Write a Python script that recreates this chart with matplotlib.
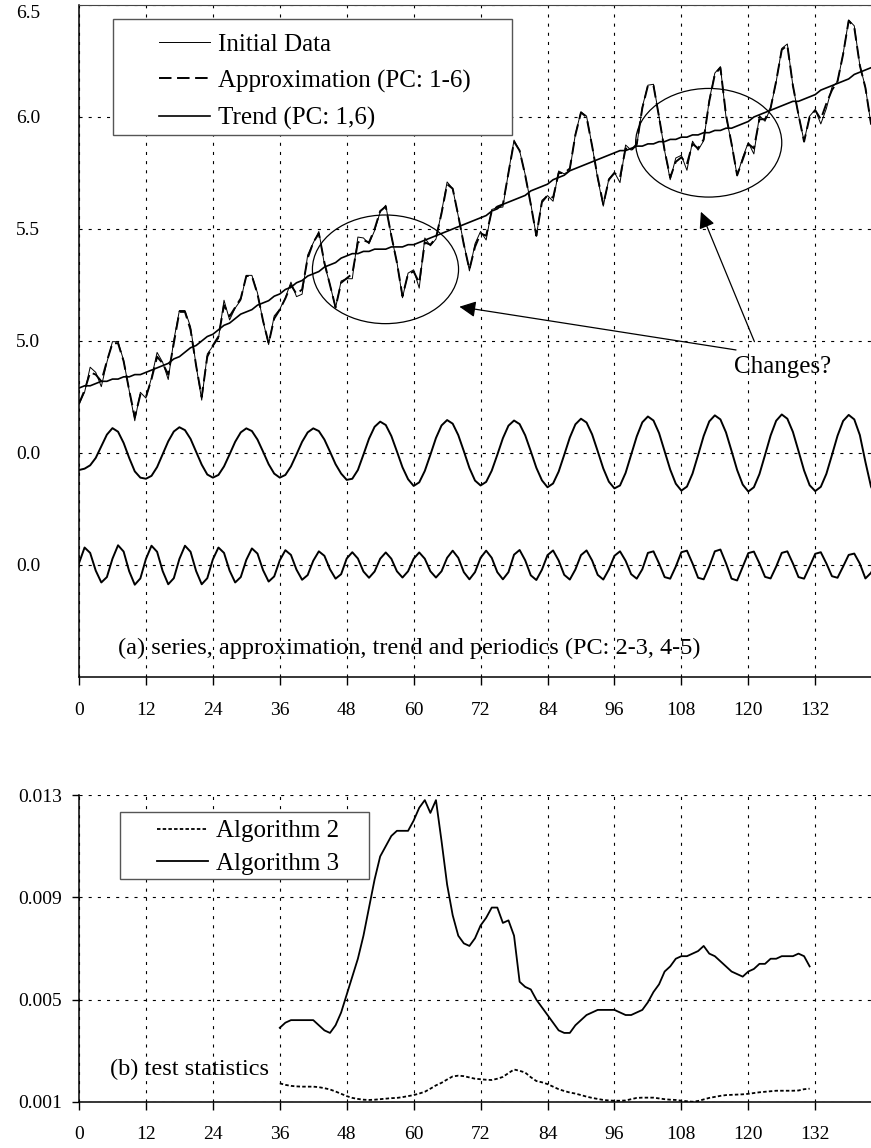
"""SSA decomposition of the log airline series and change-point statistics."""

import matplotlib.pyplot as plt
import numpy as np
from matplotlib.patches import Ellipse, Rectangle

plt.rcParams["font.family"] = ["Liberation Serif", "DejaVu Serif"]
plt.rcParams["lines.scale_dashes"] = False

# log of monthly passengers, 1949-1960 (index 0..143)
initial_data = [
    4.718, 4.771, 4.883, 4.860, 4.796, 4.905, 4.997, 4.997, 4.913, 4.779, 4.644, 4.771,
    4.745, 4.836, 4.949, 4.905, 4.828, 5.004, 5.136, 5.136, 5.063, 4.890, 4.736, 4.942,
    4.977, 5.011, 5.182, 5.094, 5.147, 5.182, 5.293, 5.293, 5.215, 5.088, 4.984, 5.112,
    5.142, 5.193, 5.263, 5.198, 5.209, 5.384, 5.438, 5.489, 5.342, 5.252, 5.147, 5.268,
    5.278, 5.278, 5.464, 5.460, 5.434, 5.493, 5.576, 5.606, 5.468, 5.352, 5.193, 5.303,
    5.318, 5.236, 5.460, 5.425, 5.455, 5.576, 5.710, 5.680, 5.557, 5.434, 5.313, 5.434,
    5.489, 5.451, 5.587, 5.595, 5.598, 5.753, 5.897, 5.849, 5.743, 5.613, 5.468, 5.628,
    5.649, 5.624, 5.759, 5.746, 5.762, 5.924, 6.023, 6.004, 5.872, 5.724, 5.602, 5.724,
    5.753, 5.707, 5.875, 5.852, 5.872, 6.045, 6.142, 6.146, 6.001, 5.849, 5.720, 5.817,
    5.829, 5.762, 5.892, 5.852, 5.894, 6.075, 6.196, 6.225, 6.001, 5.883, 5.737, 5.820,
    5.886, 5.835, 6.006, 5.981, 6.040, 6.157, 6.306, 6.326, 6.138, 6.009, 5.892, 6.004,
    6.033, 5.969, 6.038, 6.133, 6.157, 6.282, 6.433, 6.407, 6.230, 6.133, 5.966, 6.068,
]

approximation = [
    4.72, 4.78, 4.86, 4.85, 4.82, 4.91, 4.99, 4.99, 4.91, 4.78, 4.66, 4.76,
    4.75, 4.83, 4.93, 4.90, 4.85, 4.99, 5.13, 5.13, 5.05, 4.89, 4.75, 4.93,
    4.98, 5.02, 5.16, 5.11, 5.15, 5.19, 5.29, 5.29, 5.21, 5.09, 4.99, 5.10,
    5.14, 5.19, 5.25, 5.21, 5.23, 5.37, 5.44, 5.48, 5.35, 5.25, 5.15, 5.26,
    5.28, 5.30, 5.44, 5.45, 5.44, 5.50, 5.58, 5.60, 5.47, 5.35, 5.20, 5.30,
    5.31, 5.26, 5.44, 5.43, 5.46, 5.57, 5.70, 5.68, 5.56, 5.43, 5.32, 5.42,
    5.48, 5.47, 5.58, 5.60, 5.61, 5.75, 5.89, 5.85, 5.74, 5.61, 5.47, 5.62,
    5.65, 5.64, 5.75, 5.75, 5.77, 5.92, 6.02, 6.00, 5.87, 5.73, 5.61, 5.72,
    5.75, 5.73, 5.86, 5.85, 5.88, 6.04, 6.14, 6.14, 6.00, 5.85, 5.73, 5.80,
    5.82, 5.79, 5.88, 5.86, 5.90, 6.07, 6.19, 6.22, 6.01, 5.88, 5.74, 5.81,
    5.88, 5.86, 5.99, 5.99, 6.04, 6.16, 6.30, 6.32, 6.14, 6.01, 5.89, 6.00,
    6.03, 5.99, 6.06, 6.12, 6.16, 6.28, 6.43, 6.40, 6.23, 6.13, 5.97, 6.07,
]

trend = [
    4.79, 4.80, 4.80, 4.81, 4.82, 4.82, 4.83, 4.83, 4.84, 4.84, 4.85, 4.85,
    4.86, 4.87, 4.88, 4.89, 4.90, 4.92, 4.93, 4.95, 4.97, 4.98, 5.00, 5.02,
    5.03, 5.05, 5.07, 5.08, 5.10, 5.12, 5.13, 5.14, 5.16, 5.17, 5.18, 5.20,
    5.21, 5.23, 5.24, 5.26, 5.27, 5.29, 5.30, 5.31, 5.33, 5.34, 5.35, 5.37,
    5.38, 5.39, 5.39, 5.40, 5.40, 5.41, 5.41, 5.41, 5.42, 5.42, 5.42, 5.43,
    5.43, 5.44, 5.45, 5.46, 5.47, 5.48, 5.49, 5.50, 5.51, 5.52, 5.53, 5.54,
    5.55, 5.56, 5.58, 5.59, 5.61, 5.62, 5.63, 5.64, 5.65, 5.67, 5.68, 5.69,
    5.70, 5.72, 5.73, 5.74, 5.76, 5.77, 5.78, 5.79, 5.80, 5.81, 5.82, 5.83,
    5.84, 5.85, 5.85, 5.86, 5.87, 5.87, 5.88, 5.88, 5.89, 5.89, 5.90, 5.90,
    5.91, 5.91, 5.92, 5.92, 5.93, 5.93, 5.94, 5.94, 5.95, 5.95, 5.96, 5.97,
    5.98, 6.00, 6.01, 6.02, 6.03, 6.04, 6.05, 6.06, 6.07, 6.07, 6.08, 6.09,
    6.10, 6.12, 6.13, 6.14, 6.15, 6.16, 6.17, 6.19, 6.20, 6.21, 6.22, 6.23,
]

# annual periodic (PC 2-3), centred values
periodic_annual = [
    -0.076, -0.070, -0.055, -0.022, 0.030, 0.082, 0.111, 0.095, 0.045, -0.022, -0.082, -0.110,
    -0.115, -0.102, -0.063, -0.006, 0.052, 0.096, 0.115, 0.102, 0.063, 0.006, -0.052, -0.096,
    -0.110, -0.098, -0.060, -0.006, 0.050, 0.092, 0.110, 0.098, 0.060, 0.006, -0.050, -0.092,
    -0.110, -0.098, -0.060, -0.006, 0.050, 0.092, 0.110, 0.098, 0.060, 0.006, -0.050, -0.092,
    -0.120, -0.115, -0.076, -0.007, 0.064, 0.117, 0.140, 0.125, 0.076, 0.007, -0.064, -0.117,
    -0.147, -0.131, -0.080, -0.008, 0.067, 0.123, 0.147, 0.131, 0.080, 0.008, -0.067, -0.123,
    -0.145, -0.129, -0.079, -0.008, 0.066, 0.122, 0.145, 0.129, 0.079, 0.008, -0.066, -0.122,
    -0.153, -0.136, -0.083, -0.008, 0.069, 0.128, 0.153, 0.136, 0.083, 0.008, -0.069, -0.128,
    -0.158, -0.145, -0.089, -0.008, 0.074, 0.137, 0.163, 0.145, 0.089, 0.008, -0.074, -0.137,
    -0.168, -0.150, -0.092, -0.009, 0.076, 0.141, 0.168, 0.150, 0.092, 0.009, -0.076, -0.141,
    -0.172, -0.153, -0.094, -0.009, 0.078, 0.144, 0.172, 0.153, 0.094, 0.009, -0.078, -0.144,
    -0.170, -0.151, -0.093, -0.009, 0.077, 0.143, 0.170, 0.150, 0.080, -0.040, -0.150, -0.200,
]

# half-year periodic (PC 4-5), centred values
periodic_half = [
    0.008, 0.078, 0.054, -0.025, -0.078, -0.054,
    0.028, 0.088, 0.060, -0.028, -0.088, -0.060,
    0.027, 0.086, 0.059, -0.027, -0.086, -0.059,
    0.027, 0.086, 0.059, -0.027, -0.086, -0.059,
    0.025, 0.078, 0.054, -0.025, -0.078, -0.054,
    0.023, 0.074, 0.051, -0.023, -0.074, -0.051,
    0.021, 0.066, 0.045, -0.021, -0.066, -0.045,
    0.019, 0.061, 0.041, -0.019, -0.061, -0.041,
    0.029, 0.057, 0.029, -0.029, -0.057, -0.029,
    0.028, 0.056, 0.028, -0.028, -0.056, -0.028,
    0.028, 0.056, 0.028, -0.028, -0.056, -0.028,
    0.032, 0.064, 0.032, -0.032, -0.064, -0.032,
    0.032, 0.064, 0.032, -0.032, -0.064, -0.032,
    0.046, 0.067, 0.021, -0.046, -0.067, -0.021,
    0.044, 0.065, 0.020, -0.044, -0.065, -0.020,
    0.044, 0.065, 0.020, -0.044, -0.065, -0.020,
    0.041, 0.061, 0.019, -0.041, -0.061, -0.019,
    0.054, 0.061, 0.007, -0.054, -0.061, -0.007,
    0.057, 0.064, 0.007, -0.057, -0.064, -0.007,
    0.061, 0.069, 0.008, -0.061, -0.069, -0.008,
    0.053, 0.060, 0.007, -0.053, -0.060, -0.007,
    0.054, 0.061, 0.007, -0.054, -0.061, -0.007,
    0.050, 0.057, 0.007, -0.050, -0.057, -0.007,
    0.045, 0.051, 0.006, -0.060, -0.035, 0.010,
]

# test statistics, months 36..131
stat_start = 36
algorithm_2 = [
    0.00173, 0.00167, 0.00163, 0.00161, 0.00160, 0.00160, 0.00160, 0.00158,
    0.00154, 0.00149, 0.00141, 0.00132, 0.00123, 0.00116, 0.00112, 0.00109,
    0.00108, 0.00109, 0.00111, 0.00113, 0.00115, 0.00116, 0.00119, 0.00123,
    0.00127, 0.00133, 0.00140, 0.00152, 0.00165, 0.00175, 0.00188, 0.00200,
    0.00203, 0.00201, 0.00196, 0.00191, 0.00189, 0.00187, 0.00186, 0.00191,
    0.00198, 0.00213, 0.00227, 0.00222, 0.00215, 0.00197, 0.00182, 0.00177,
    0.00170, 0.00160, 0.00150, 0.00143, 0.00137, 0.00133, 0.00127, 0.00121,
    0.00116, 0.00112, 0.00108, 0.00106, 0.00105, 0.00105, 0.00106, 0.00111,
    0.00116, 0.00117, 0.00117, 0.00117, 0.00114, 0.00111, 0.00109, 0.00108,
    0.00105, 0.00103, 0.00101, 0.00104, 0.00110, 0.00116, 0.00120, 0.00124,
    0.00127, 0.00128, 0.00129, 0.00130, 0.00132, 0.00135, 0.00138, 0.00140,
    0.00142, 0.00144, 0.00144, 0.00144, 0.00144, 0.00145, 0.00150, 0.00152,
]
algorithm_3 = [
    0.0039, 0.0041, 0.0042, 0.0042, 0.0042, 0.0042, 0.0042, 0.0040,
    0.0038, 0.0037, 0.0040, 0.0045, 0.0052, 0.0059, 0.0066, 0.0075,
    0.0086, 0.0097, 0.0106, 0.0110, 0.0114, 0.0116, 0.0116, 0.0116,
    0.0120, 0.0125, 0.0128, 0.0123, 0.0128, 0.0112, 0.0095, 0.0083,
    0.0075, 0.0072, 0.0071, 0.0074, 0.0079, 0.0082, 0.0086, 0.0086,
    0.0080, 0.0081, 0.0075, 0.0057, 0.0055, 0.0054, 0.0050, 0.0047,
    0.0044, 0.0041, 0.0038, 0.0037, 0.0037, 0.0040, 0.0042, 0.0044,
    0.0045, 0.0046, 0.0046, 0.0046, 0.0046, 0.0045, 0.0044, 0.0044,
    0.0045, 0.0046, 0.0049, 0.0053, 0.0056, 0.0061, 0.0063, 0.0066,
    0.0067, 0.0067, 0.0068, 0.0069, 0.0071, 0.0068, 0.0067, 0.0065,
    0.0063, 0.0061, 0.0060, 0.0059, 0.0061, 0.0062, 0.0064, 0.0064,
    0.0066, 0.0066, 0.0067, 0.0067, 0.0067, 0.0068, 0.0067, 0.0063,
]

x_ticks = list(range(0, 133, 12))
top_tick_values = [4.0, 4.5, 5.0, 5.5, 6.0, 6.5]
top_tick_labels = ["0.0", "0.0", "5.0", "5.5", "6.0", "6.5"]
bottom_tick_values = [0.001, 0.005, 0.009, 0.013]
bottom_tick_labels = ["0.001", "0.005", "0.009", "0.013"]

# vertical offsets of the two periodic curves in panel (a)
ANNUAL_BASE = 4.5
HALF_BASE = 4.0

GRID = dict(color="black", linewidth=0.8, linestyle=(0, (2.2, 4.4)))
BIG = 18
TICK = 14


def style_axis(ax):
    ax.set_xlim(0, 142)
    ax.set_xticks(x_ticks)
    ax.grid(True, **GRID)
    ax.spines["right"].set_visible(False)
    for side in ("left", "bottom"):
        ax.spines[side].set_linewidth(1.1)
    ax.tick_params(axis="x", direction="out", length=6, width=1.0,
                   labelsize=TICK)


def legend_box(ax, x0, y0, w, h):
    # opaque frame so the grid does not run through the legend
    ax.add_patch(Rectangle((x0, y0), w, h, transform=ax.transAxes,
                           facecolor="white", edgecolor="#555555", lw=1.0,
                           zorder=4))


fig = plt.figure(figsize=(8.71, 11.48), dpi=100)
ax_a = fig.add_axes([0.0907, 0.41028, 0.9093, 0.58537])
ax_b = fig.add_axes([0.0907, 0.04007, 0.9093, 0.26742])

# ---- panel (a)
t = np.arange(len(initial_data))
h_data, = ax_a.plot(t, initial_data, color="black", lw=0.7,
                    label="Initial Data")
h_appr, = ax_a.plot(t, approximation, color="black", lw=1.4,
                    ls=(0, (9, 4)), label="Approximation (PC: 1-6)")
h_trend, = ax_a.plot(t, trend, color="black", lw=1.2,
                     label="Trend (PC: 1,6)")
ax_a.plot(t, np.array(periodic_annual) + ANNUAL_BASE, color="black", lw=1.4)
ax_a.plot(t, np.array(periodic_half) + HALF_BASE, color="black", lw=1.4)

style_axis(ax_a)
ax_a.set_ylim(3.5, 6.5)
ax_a.set_yticks(top_tick_values)
ax_a.set_yticklabels(top_tick_labels)
ax_a.tick_params(axis="y", length=0, pad=28, labelsize=TICK)
ax_a.tick_params(axis="x", pad=12)
ax_a.get_yticklabels()[-1].set_verticalalignment("top")
ax_a.spines["top"].set_color("#444444")
ax_a.spines["top"].set_linewidth(0.8)

for cx, cy in [(54.95, 5.32), (112.9, 5.885)]:
    ax_a.add_patch(Ellipse((cx, cy), 26.2, 0.485, fill=False,
                           edgecolor="black", lw=0.9))

arrow = dict(arrowstyle="-|>,head_length=0.55,head_width=0.27",
             color="black", lw=0.9, mutation_scale=18,
             shrinkA=0, shrinkB=0)
ax_a.annotate("", xy=(68.2, 5.153), xytext=(117.8, 4.96), arrowprops=arrow)
ax_a.annotate("", xy=(111.5, 5.577), xytext=(121.1, 4.997),
              arrowprops=arrow)
ax_a.text(117.5, 4.884, "Changes?", fontsize=BIG, ha="left", va="center")
ax_a.text(7.0, 3.629,
          "(a) series, approximation, trend and periodics (PC: 2-3, 4-5)",
          fontsize=17.5, ha="left", va="center")

legend_box(ax_a, 0.0429, 0.8065, 0.5038, 0.1726)
leg_a = ax_a.legend(handles=[h_data, h_appr, h_trend], loc="upper left",
                    bbox_to_anchor=(0.101, 0.9583), frameon=False,
                    fontsize=BIG, handlelength=2.05, handletextpad=0.3,
                    labelspacing=0.56, borderpad=0, borderaxespad=0)
leg_a.set_zorder(5)

# ---- panel (b)
ts = np.arange(stat_start, stat_start + len(algorithm_3))
h_a2, = ax_b.plot(ts, algorithm_2, color="black", lw=1.3,
                  ls=(0, (2.5, 1.6)), label="Algorithm 2")
h_a3, = ax_b.plot(ts, algorithm_3, color="black", lw=1.3,
                  label="Algorithm 3")

style_axis(ax_b)
ax_b.set_ylim(0.001, 0.013)
ax_b.set_yticks(bottom_tick_values)
ax_b.set_yticklabels(bottom_tick_labels)
ax_b.tick_params(axis="y", direction="out", length=5, width=1.0, pad=7,
                 labelsize=TICK)
ax_b.tick_params(axis="x", pad=11)
ax_b.spines["top"].set_visible(False)
ax_b.text(5.55, 0.00229, "(b) test statistics", fontsize=17.5,
          ha="left", va="center")

legend_box(ax_b, 0.0518, 0.7264, 0.3144, 0.218)
leg_b = ax_b.legend(handles=[h_a2, h_a3], loc="upper left",
                    bbox_to_anchor=(0.0985, 0.9186), frameon=False,
                    fontsize=BIG, handlelength=2.05, handletextpad=0.3,
                    labelspacing=0.4, borderpad=0, borderaxespad=0)
leg_b.set_zorder(5)

fig.savefig("out.png", dpi=100)
